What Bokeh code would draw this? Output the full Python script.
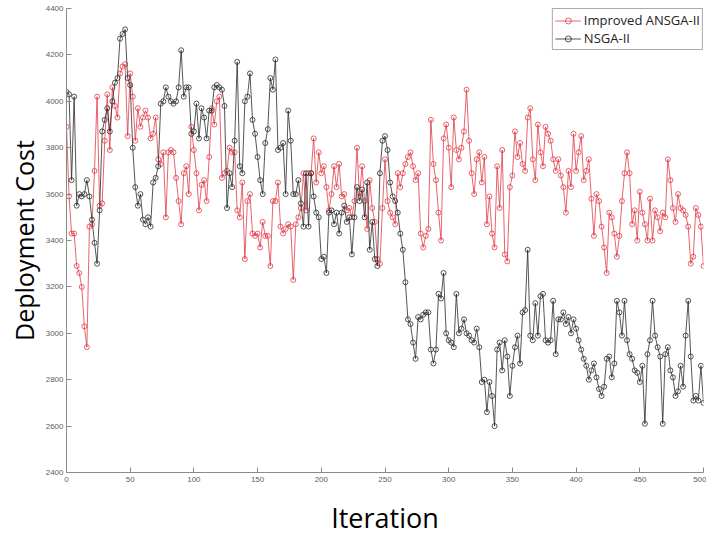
from bokeh.plotting import figure
from bokeh.models import Range1d, Legend, LegendItem, FixedTicker
from bokeh.embed import file_html
from bokeh.resources import INLINE

# Iteration grid (every second iteration is sampled)
iterations = list(range(0, 501, 2))

# Improved ANSGA-II deployment cost
improved = [
    3890, 3590, 3430, 3430, 3290, 3260, 3200, 3030, 2940, 3460,
    3470, 3700, 4020, 3550, 3560, 3830, 4030, 3790, 4060, 3980,
    3930, 4120, 4150, 4160, 3850, 4120, 4020, 3830, 3970, 3890,
    3930, 3960, 3930, 3840, 3860, 3930, 3750, 3730, 3780, 3500,
    3780, 3790, 3780, 3670, 3570, 3470, 3690, 3720, 3600, 3890,
    3790, 3690, 3530, 3640, 3660, 3570, 3760, 3970, 3900, 4000,
    4020, 3670, 3690, 3700, 3800, 3780, 3780, 3530, 3500, 3650,
    3320, 3570, 3600, 3430, 3420, 3430, 3370, 3480, 3420, 3420,
    3290, 3570, 3570, 3650, 3460, 3430, 3450, 3470, 3460, 3230,
    3470, 3500, 3540, 3690, 3530, 3690, 3690, 3840, 3650, 3780,
    3690, 3720, 3630, 3530, 3600, 3720, 3630, 3730, 3590, 3600,
    3530, 3540, 3500, 3570, 3800, 3590, 3720, 3570, 3450, 3660,
    3540, 3480, 3320, 3300, 3540, 3750, 3570, 3520, 3500, 3470,
    3690, 3630, 3690, 3730, 3760, 3780, 3720, 3660, 3690, 3430,
    3370, 3420, 3450, 3920, 3730, 3660, 3520, 3400, 3840, 3900,
    3800, 3630, 3930, 3790, 3750, 3800, 3870, 4050, 3830, 3690,
    3600, 3750, 3780, 3650, 3760, 3470, 3590, 3430, 3370, 3720,
    3540, 3790, 3340, 3310, 3630, 3680, 3870, 3760, 3820, 3730,
    3700, 3930, 3970, 3750, 3660, 3900, 3780, 3720, 3890, 3860,
    3830, 3750, 3700, 3750, 3680, 3630, 3520, 3700, 3630, 3860,
    3700, 3780, 3850, 3660, 3700, 3750, 3580, 3420, 3600, 3570,
    3460, 3370, 3260, 3520, 3500, 3430, 3330, 3420, 3570, 3690,
    3780, 3690, 3470, 3530, 3400, 3610, 3520, 3470, 3400, 3580,
    3400, 3530, 3500, 3440, 3520, 3500, 3750, 3660, 3540, 3480,
    3600, 3540, 3530, 3510, 3460, 3300, 3330, 3540, 3510, 3460,
    3290,
]

# NSGA-II deployment cost
nsga = [
    4040, 4030, 3660, 4020, 3550, 3600, 3590, 3600, 3660, 3590,
    3490, 3390, 3300, 3530, 3870, 3920, 3970, 3870, 4000, 4080,
    4100, 4270, 4290, 4310, 4100, 4070, 3800, 3630, 3550, 3600,
    3490, 3470, 3500, 3460, 3650, 3670, 3720, 3990, 4000, 4060,
    4020, 4000, 3990, 4000, 4060, 4220, 4020, 4060, 4060, 3860,
    3870, 3990, 3840, 3970, 3930, 3840, 3960, 3960, 4060, 4070,
    4060, 4050, 3980, 3540, 3690, 3630, 3830, 4170, 3720, 3690,
    4000, 4020, 4120, 3920, 3860, 3760, 3660, 3600, 3820, 3880,
    4100, 4050, 4180, 3790, 3800, 3820, 3600, 3960, 3830, 3600,
    3600, 3660, 3560, 3460, 3690, 3460, 3690, 3590, 3520, 3500,
    3320, 3330, 3260, 3520, 3530, 3470, 3520, 3430, 3520, 3550,
    3480, 3500, 3340, 3500, 3630, 3570, 3620, 3500, 3650, 3360,
    3480, 3320, 3290, 3690, 3830, 3850, 3790, 3650, 3590, 3570,
    3520, 3430, 3360, 3220, 3060, 3040, 2960, 2890, 3070, 3060,
    3080, 3090, 3090, 2930, 2870, 2930, 3170, 3150, 3260, 3000,
    2970, 2960, 2940, 3170, 3000, 3020, 3060, 3000, 2990, 2970,
    2960, 3020, 2940, 2790, 2800, 2660, 2790, 2730, 2600, 2930,
    2960, 2840, 2970, 2900, 2730, 2860, 2940, 2990, 2870, 3090,
    3100, 3360, 2990, 2970, 3130, 2990, 3160, 3170, 2970, 2960,
    2970, 3140, 2910, 3060, 3060, 3090, 3040, 3070, 3000, 3060,
    3020, 2970, 2930, 2890, 2860, 2800, 2840, 2870, 2810, 2760,
    2730, 2770, 2890, 2900, 2810, 2870, 3140, 3090, 2990, 3140,
    2970, 2910, 2890, 2840, 2830, 2790, 2860, 2610, 2910, 2970,
    3140, 2990, 2940, 2900, 2610, 2910, 2940, 2840, 2810, 2730,
    2750, 2860, 2770, 2990, 3140, 2900, 2710, 2730, 2710, 2860,
    2700,
]

x_ticks = [0, 50, 100, 150, 200, 250, 300, 350, 400, 450, 500]
y_ticks = [2400, 2600, 2800, 3000, 3200, 3400, 3600, 3800, 4000, 4200, 4400]

assert len(iterations) == len(improved) == len(nsga)

p = figure(width=706, height=538, output_backend="svg", toolbar_location=None,
           x_range=Range1d(0, 500), y_range=Range1d(2400, 4400),
           min_border_left=66, min_border_right=3, min_border_top=8,
           min_border_bottom=65)

p.outline_line_color = None
p.xgrid.visible = False
p.ygrid.visible = False
p.background_fill_color = "white"
p.border_fill_color = "white"

red = "#e0303c"
dark = "#2a2a2a"

r1 = p.line(iterations, improved, line_color=red, line_width=1, line_alpha=0.75)
s1 = p.scatter(iterations, improved, marker="circle", size=5, line_color=red,
               line_alpha=0.75, fill_color="white", fill_alpha=0.0, line_width=1)
r2 = p.line(iterations, nsga, line_color=dark, line_width=1, line_alpha=0.8)
s2 = p.scatter(iterations, nsga, marker="circle", size=5, line_color=dark,
               line_alpha=0.8, fill_color="white", fill_alpha=0.0, line_width=1)

for ax in (p.xaxis[0], p.yaxis[0]):
    ax.axis_line_color = "#8a8a8a"
    ax.major_tick_line_color = "#8a8a8a"
    ax.minor_tick_line_color = None
    ax.major_tick_in = 5
    ax.major_tick_out = 0
    ax.major_label_text_font = "Liberation Sans"
    ax.major_label_text_font_size = "8px"
    ax.major_label_text_color = "#606060"
    ax.axis_label_text_font = "Open Sans"
    ax.axis_label_text_font_style = "normal"
    ax.axis_label_text_color = "black"

p.xaxis[0].ticker = FixedTicker(ticks=x_ticks)
p.yaxis[0].ticker = FixedTicker(ticks=y_ticks)
p.xaxis[0].axis_label = "Iteration"
p.yaxis[0].axis_label = "Deployment Cost"
p.xaxis[0].axis_label_text_font_size = "27px"
p.yaxis[0].axis_label_text_font_size = "25px"
p.xaxis[0].major_label_standoff = 4
p.yaxis[0].major_label_standoff = 3
p.xaxis[0].axis_label_standoff = 14
p.yaxis[0].axis_label_standoff = 2

legend = Legend(items=[LegendItem(label="Improved ANSGA-II", renderers=[r1, s1]),
                       LegendItem(label="NSGA-II", renderers=[r2, s2])],
                location="top_right")
legend.label_text_font = "Open Sans"
legend.label_text_font_size = "13px"
legend.label_text_color = "#222222"
legend.glyph_width = 26
legend.glyph_height = 15
legend.label_height = 15
legend.label_standoff = 3
legend.spacing = 0
legend.padding = 2
legend.margin = 0
legend.border_line_color = "#555555"
legend.border_line_width = 1
legend.background_fill_color = "white"
legend.background_fill_alpha = 1.0
p.add_layout(legend)

open("out.html", "w").write(file_html(p, INLINE))
